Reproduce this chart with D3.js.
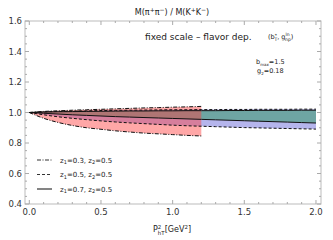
<!DOCTYPE html>
<html>
<head>
<meta charset="utf-8">
<script src="https://cdn.jsdelivr.net/npm/d3@7"></script>
<style>
  body { margin: 0; background: #fff; }
  text { font-family: "DejaVu Sans", sans-serif; fill: #222; }
</style>
</head>
<body>
<svg width="333" height="240"></svg>
<script>
// pT^2 grid and band edges
var ptShort = [0, 0.1, 0.2, 0.3, 0.4, 0.5, 0.6, 0.7, 0.8, 0.9, 1.0, 1.1, 1.2];
var ptLong = [0, 0.1, 0.2, 0.3, 0.4, 0.5, 0.6, 0.7, 0.8, 0.9, 1.0, 1.1, 1.2, 1.3, 1.4, 1.5, 1.6, 1.7, 1.8, 1.9, 2.0];

var z03Lower = [1.0, 0.962, 0.935, 0.915, 0.9, 0.89, 0.88, 0.872, 0.865, 0.86, 0.855, 0.85, 0.846];
var z03Upper = [1.0, 1.007, 1.011, 1.015, 1.018, 1.021, 1.024, 1.027, 1.03, 1.032, 1.035, 1.037, 1.04];

var z05Lower = [1.0, 0.985, 0.972, 0.962, 0.953, 0.945, 0.938, 0.932, 0.927, 0.922, 0.917, 0.913, 0.91, 0.907, 0.904, 0.901, 0.899, 0.897, 0.895, 0.893, 0.891];
var z05Upper = [1.0, 1.004, 1.007, 1.009, 1.011, 1.013, 1.014, 1.015, 1.016, 1.017, 1.018, 1.018, 1.019, 1.019, 1.02, 1.02, 1.021, 1.021, 1.021, 1.022, 1.022];

var z07Lower = [1.0, 0.995, 0.99, 0.985, 0.981, 0.977, 0.973, 0.97, 0.967, 0.964, 0.961, 0.958, 0.955, 0.952, 0.949, 0.946, 0.943, 0.94, 0.937, 0.934, 0.931];
var z07Upper = [1.0, 1.003, 1.005, 1.006, 1.007, 1.008, 1.009, 1.01, 1.01, 1.011, 1.011, 1.012, 1.012, 1.012, 1.013, 1.013, 1.014, 1.014, 1.014, 1.015, 1.015];

var xTicks = [0, 0.5, 1.0, 1.5, 2.0];
var yTicks = [0.4, 0.6, 0.8, 1.0, 1.2, 1.4, 1.6];
var legendLabels = ['z1=0.3', 'z1=0.5', 'z1=0.7'];

var svg = d3.select('svg');
var pLeft = 25, pRight = 321, pTop = 21, pBottom = 204;

var x = d3.scaleLinear().domain([-0.03, 2.035]).range([pLeft, pRight]);
var y = d3.scaleLinear().domain([0.4, 1.6]).range([pBottom, pTop]);

function rows(xs, lo, hi){
  return xs.map(function(v, i){ return {x: v, lo: lo[i], hi: hi[i]}; });
}

var bands = [
  {d: rows(ptLong, z05Lower, z05Upper), fill: 'rgb(120,120,220)', op: 0.55, dash: '3,2'},
  {d: rows(ptLong, z07Lower, z07Upper), fill: 'rgb(40,150,90)', op: 0.5, dash: null},
  {d: rows(ptShort, z03Lower, z03Upper), fill: 'rgb(255,60,60)', op: 0.45, dash: '4,1.5,1,1.5'}
];

var area = d3.area()
  .x(function(d){ return x(d.x); })
  .y0(function(d){ return y(d.lo); })
  .y1(function(d){ return y(d.hi); })
  .curve(d3.curveMonotoneX);

bands.forEach(function(b){
  svg.append('path').attr('d', area(b.d))
    .attr('fill', b.fill).attr('fill-opacity', b.op);
});

bands.forEach(function(b){
  ['lo', 'hi'].forEach(function(k){
    var line = d3.line()
      .x(function(d){ return x(d.x); })
      .y(function(d){ return y(d[k]); })
      .curve(d3.curveMonotoneX);
    svg.append('path').attr('d', line(b.d))
      .attr('fill', 'none').attr('stroke', '#111').attr('stroke-width', 1)
      .attr('stroke-dasharray', b.dash);
  });
});

// frame
svg.append('rect').attr('x', pLeft).attr('y', pTop)
  .attr('width', pRight - pLeft).attr('height', pBottom - pTop)
  .attr('fill', 'none').attr('stroke', '#bbb').attr('stroke-width', 1);

// ticks on all sides
var tickCol = '#aaa';
d3.range(0, 2.001, 0.1).forEach(function(v){
  var major = Math.abs(v * 2 - Math.round(v * 2)) < 1e-6;
  var len = major ? 4 : 2;
  svg.append('line').attr('x1', x(v)).attr('x2', x(v)).attr('y1', pBottom).attr('y2', pBottom - len).attr('stroke', tickCol);
  svg.append('line').attr('x1', x(v)).attr('x2', x(v)).attr('y1', pTop).attr('y2', pTop + len).attr('stroke', tickCol);
});
d3.range(0.4, 1.6001, 0.05).forEach(function(v){
  var major = Math.abs(v * 5 - Math.round(v * 5)) < 1e-6;
  var len = major ? 4 : 2;
  svg.append('line').attr('x1', pLeft).attr('x2', pLeft + len).attr('y1', y(v)).attr('y2', y(v)).attr('stroke', tickCol);
  svg.append('line').attr('x1', pRight).attr('x2', pRight - len).attr('y1', y(v)).attr('y2', y(v)).attr('stroke', tickCol);
});

svg.selectAll('.xl').data(xTicks).enter().append('text')
  .attr('x', function(d){ return x(d); }).attr('y', 215)
  .attr('text-anchor', 'middle').attr('font-size', 8.5).style('fill', '#333')
  .text(function(d){ return d.toFixed(1); });
svg.selectAll('.yl').data(yTicks).enter().append('text')
  .attr('x', 22).attr('y', function(d){ return y(d) + 3; })
  .attr('text-anchor', 'end').attr('font-size', 8.5).style('fill', '#333')
  .text(function(d){ return d.toFixed(1); });

// title
var t = svg.append('text').attr('x', 172).attr('y', 15).attr('text-anchor', 'middle').attr('font-size', 8);
t.append('tspan').text('M(\u03c0');
t.append('tspan').attr('font-size', 6).attr('dy', -3).text('+');
t.append('tspan').attr('dy', 3).text('\u03c0');
t.append('tspan').attr('font-size', 6).attr('dy', -3).text('\u2212');
t.append('tspan').attr('dy', 3).text(') / M(K');
t.append('tspan').attr('font-size', 6).attr('dy', -3).text('+');
t.append('tspan').attr('dy', 3).text('K');
t.append('tspan').attr('font-size', 6).attr('dy', -3).text('\u2212');
t.append('tspan').attr('dy', 3).text(')');

// x axis label
var xl = svg.append('text').attr('x', 172).attr('y', 232).attr('text-anchor', 'middle').attr('font-size', 8);
xl.append('tspan').text('P');
xl.append('tspan').attr('font-size', 5.5).attr('dy', -3.5).text('2');
xl.append('tspan').attr('font-size', 5.5).attr('dx', -3.5).attr('dy', 6).text('hT');
xl.append('tspan').attr('dy', -2.5).text('[GeV');
xl.append('tspan').attr('font-size', 5.5).attr('dy', -3).text('2');
xl.append('tspan').attr('dy', 3).text(']');

// annotations
svg.append('text').attr('x', 145).attr('y', 40).attr('font-size', 9)
  .attr('font-family', 'Liberation Sans, sans-serif').text('fixed scale \u2013 flavor dep.');
var a = svg.append('text').attr('x', 268).attr('y', 39).attr('font-size', 6.5);
a.append('tspan').text('(b');
a.append('tspan').attr('font-size', 4.5).attr('dy', -2.5).text('*');
a.append('tspan').attr('font-size', 4.5).attr('dx', -2.5).attr('dy', 4).text('T');
a.append('tspan').attr('dy', -1.5).text(', g');
a.append('tspan').attr('font-size', 4.5).attr('dy', -3.5).text('ln');
a.append('tspan').attr('font-size', 4.5).attr('dx', -4.5).attr('dy', 5.5).text('np');
a.append('tspan').attr('dy', -2).text(')');

var b1 = svg.append('text').attr('x', 256).attr('y', 64).attr('font-size', 6.5);
b1.append('tspan').text('b');
b1.append('tspan').attr('font-size', 4).attr('dy', 1.5).text('max');
b1.append('tspan').attr('dy', -1.5).text('=1.5');
var g2 = svg.append('text').attr('x', 257).attr('y', 73).attr('font-size', 6.5);
g2.append('tspan').text('g');
g2.append('tspan').attr('font-size', 4).attr('dy', 1.5).text('2');
g2.append('tspan').attr('dy', -1.5).text('=0.18');

// legend
var legendDash = ['4,1.5,1,1.5', '3,2', null];
legendLabels.forEach(function(lab, i){
  var ly = 160 + i * 14.5;
  svg.append('line').attr('x1', 37).attr('x2', 52).attr('y1', ly).attr('y2', ly)
    .attr('stroke', '#333').attr('stroke-width', 1.2).attr('stroke-dasharray', legendDash[i]);
  var tx = svg.append('text').attr('x', 60).attr('y', ly + 2.5).attr('font-size', 7);
  tx.append('tspan').text('z');
  tx.append('tspan').attr('font-size', 5).attr('dy', 1.5).text('1');
  tx.append('tspan').attr('dy', -1.5).text(lab.slice(2) + ', z');
  tx.append('tspan').attr('font-size', 5).attr('dy', 1.5).text('2');
  tx.append('tspan').attr('dy', -1.5).text('=0.5');
});
</script>
</body>
</html>
